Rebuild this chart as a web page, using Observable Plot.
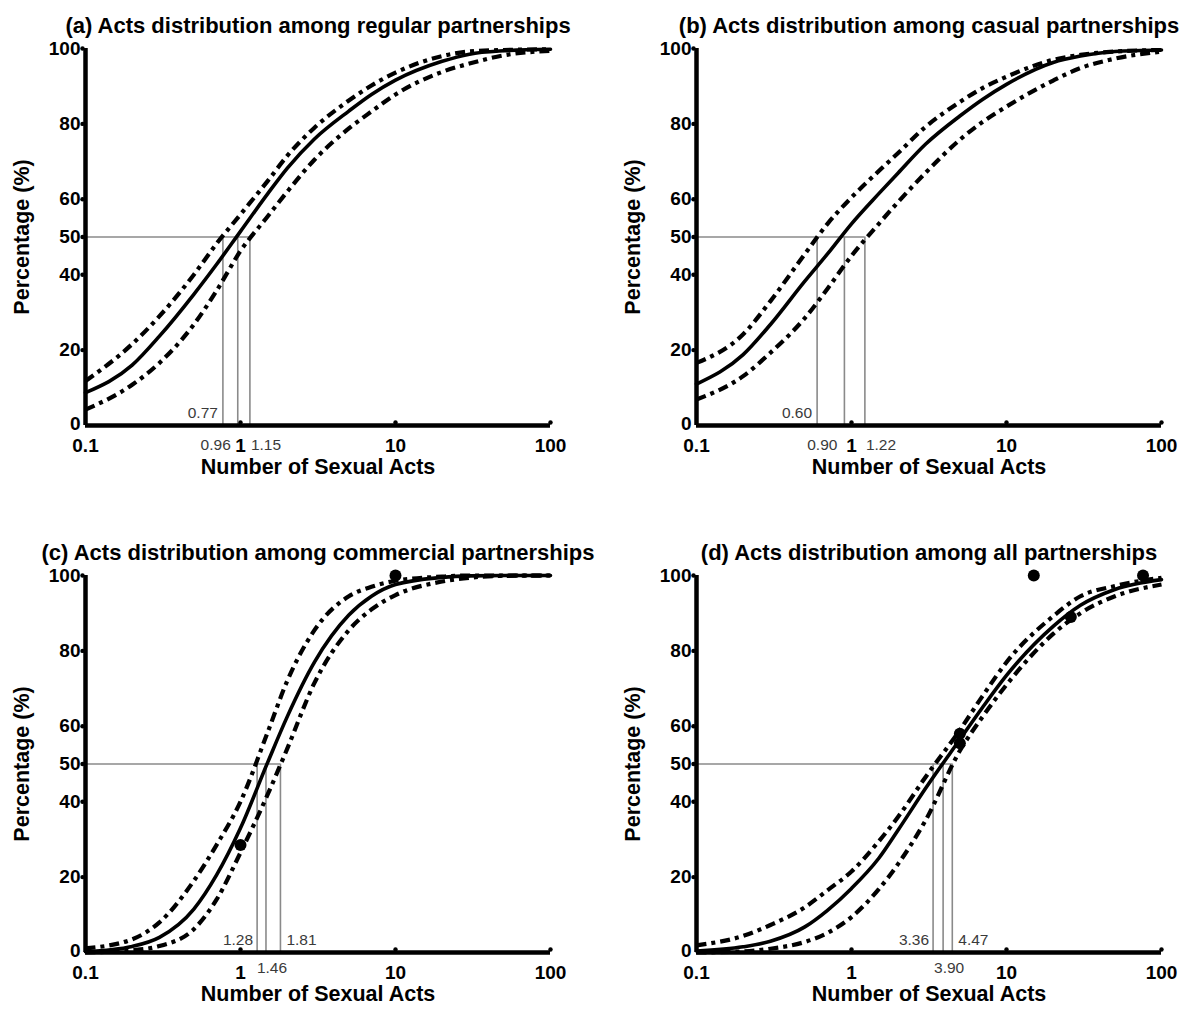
<!DOCTYPE html>
<html>
<head>
<meta charset="utf-8">
<script src="https://cdn.jsdelivr.net/npm/d3@7"></script>
<script src="https://cdn.jsdelivr.net/npm/@observablehq/plot@0.6"></script>
<style>
  html, body { margin: 0; padding: 0; background: #ffffff; overflow: hidden; }
  #wrap { position: relative; width: 1200px; height: 1020px; background: #ffffff; overflow: hidden; }
  .panel { position: absolute; width: 600px; height: 490px; }
  .panel svg { max-width: none !important; }
</style>
</head>
<body>
<div id="wrap"></div>
<script>
// ---- Data ----
const xGrid = [0.1, 0.2, 0.3, 0.5, 0.7, 1, 1.5, 2, 3, 5, 7, 10, 20, 30, 50, 100];

const titles = [
  "(a) Acts distribution among regular partnerships",
  "(b) Acts distribution among casual partnerships",
  "(c) Acts distribution among commercial partnerships",
  "(d) Acts distribution among all partnerships"
];

// Panel (a) regular
const aMid = [8.7, 16, 23.7, 34.8, 42.7, 51.5, 61.5, 68.2, 76, 83.4, 87.8, 91.6, 96.6, 98.5, 99.4, 99.8];
const aUp  = [11.8, 21.6, 29, 40, 48.2, 56, 64.9, 71.5, 79, 86.2, 90.2, 93.6, 98, 99.2, 99.6, 99.8];
const aLo  = [4.2, 10.8, 16.6, 26.8, 35.7, 46.3, 55.5, 62, 70.5, 78.8, 83.3, 87.8, 93.8, 96, 98.2, 99.4];
const aMedians = [0.77, 0.96, 1.15];
const aPoints = [];

// Panel (b) casual
const bMid = [11, 18.8, 26.8, 38.3, 45.5, 53.5, 61.5, 67, 74.6, 82.1, 86.5, 90.5, 96.3, 98, 99.2, 99.6];
const bUp  = [16.6, 24.2, 33, 45.5, 53.5, 60.5, 67.5, 72.3, 79.2, 85.8, 89.5, 92.5, 97, 98.3, 99.2, 99.6];
const bLo  = [6.9, 13.1, 19.3, 28.5, 36.3, 45, 53.5, 59.3, 67, 75.8, 80.5, 84.6, 91.5, 94.8, 97.3, 99.2];
const bMedians = [0.60, 0.90, 1.22];
const bPoints = [];

// Panel (c) commercial
const cMid = [0.2, 1.6, 4, 11.5, 20.5, 33, 50.5, 62.5, 77, 89.5, 94.5, 97.6, 99.5, 99.9, 100, 100];
const cUp  = [1.1, 3.5, 8, 19, 28.5, 40, 58.5, 72, 85.5, 94.5, 97, 98.6, 99.7, 100, 100, 100];
const cLo  = [0, 0.6, 1.7, 6.2, 14, 26.5, 42, 54, 71.5, 85.5, 91, 94.8, 98.4, 99.4, 99.9, 100];
const cMedians = [1.28, 1.46, 1.81];
const cPoints = [[1, 28.5], [10, 100]];

// Panel (d) all
const dMid = [0.4, 1.5, 3, 6.8, 11.2, 17, 25, 32.5, 43.5, 56.5, 65, 73.5, 86.5, 92.1, 96.3, 98.9];
const dUp  = [1.9, 4.4, 7.3, 12, 16.5, 21.5, 29.5, 36, 46.5, 59, 68, 77, 89.2, 94.5, 97.2, 99.4];
const dLo  = [0, 0.3, 1, 2.8, 5.2, 9.4, 16.8, 23.5, 35, 53.5, 62.5, 71, 84.5, 90, 94.5, 97.6];
const dMedians = [3.36, 3.90, 4.47];
const dPoints = [[15, 100], [76, 100], [26, 89], [5, 58], [5, 55.5]];

const xTicks = [0.1, 1, 10, 100];
const yTicks = [0, 20, 40, 50, 60, 80, 100];
const xLabel = "Number of Sexual Acts";
const yLabel = "Percentage (%)";

// ---- Styling / layout (not data) ----
const FONT = "'Liberation Sans', Arial, Helvetica, sans-serif";
const placeAB = [
  {anchor: "end", dx: -5, dy: -12},   // above axis, left of line
  {anchor: "end", dx: -7, dy: 20},    // below axis, left
  {anchor: "start", dx: 1, dy: 20}    // below axis, right
];
const placeCD = [
  {anchor: "end", dx: -4, dy: -12},
  {anchor: "middle", dx: 6, dy: 16},
  {anchor: "start", dx: 6, dy: -12}
];

const panels = [
  {title: titles[0], mid: aMid, up: aUp, lo: aLo, med: aMedians, pts: aPoints, place: placeAB, left: 0, top: 0},
  {title: titles[1], mid: bMid, up: bUp, lo: bLo, med: bMedians, pts: bPoints, place: placeAB, left: 611, top: 0},
  {title: titles[2], mid: cMid, up: cUp, lo: cLo, med: cMedians, pts: cPoints, place: placeCD, left: 0, top: 527},
  {title: titles[3], mid: dMid, up: dUp, lo: dLo, med: dMedians, pts: dPoints, place: placeCD, left: 611, top: 527}
];

function series(arr) { return xGrid.map((x, i) => ({x, y: arr[i]})); }

function makePanel(p) {
  const dash = "10,5,4,5";
  const gray = "#8a8a8a";
  const dashStyle = {x: "x", y: "y", curve: "monotone-x", stroke: "#000", strokeWidth: 4.2,
    strokeDasharray: dash, strokeLinecap: "butt"};
  const labelMarks = p.med.map((m, i) => Plot.text([m], {
    x: d => d, y: 0, text: d => d.toFixed(2),
    textAnchor: p.place[i].anchor, dx: p.place[i].dx, dy: p.place[i].dy,
    lineAnchor: "middle", fontSize: 15.5, fill: "#3a3a3a", fontFamily: FONT
  }));
  const tickFont = {lineAnchor: "middle", fontSize: 19, fontWeight: "bold", fill: "#000"};
  return Plot.plot({
    width: 600, height: 490,
    marginLeft: 85, marginRight: 50, marginTop: 48, marginBottom: 65,
    x: {type: "log", domain: [0.1, 100], axis: null},
    y: {domain: [0, 100], axis: null},
    style: {fontFamily: FONT, background: "#ffffff", color: "#000", overflow: "visible", maxWidth: "none"},
    marks: [
      // reference lines at 50 %
      Plot.ruleY([50], {x1: 0.1, x2: d3.max(p.med), stroke: gray, strokeWidth: 1.6}),
      Plot.ruleX(p.med, {y1: 0, y2: 50, stroke: gray, strokeWidth: 1.6}),
      // curves
      Plot.line(series(p.up), dashStyle),
      Plot.line(series(p.lo), dashStyle),
      Plot.line(series(p.mid), {x: "x", y: "y", curve: "monotone-x", stroke: "#000", strokeWidth: 3.6}),
      // observed points
      Plot.dot(p.pts, {x: d => d[0], y: d => d[1], r: 6, fill: "#000", stroke: "none"}),
      // axis lines
      Plot.ruleX([0.1], {stroke: "#000", strokeWidth: 4.5}),
      Plot.ruleY([0], {stroke: "#000", strokeWidth: 4.5}),
      // small tick nubs
      Plot.dot(xTicks.slice(1), {x: d => d, y: 0, r: 2.2, dy: -3, fill: "#000"}),
      Plot.dot(yTicks.slice(1), {x: 0.1, y: d => d, r: 2.2, dx: -3, fill: "#000"}),
      // tick labels
      Plot.text(yTicks.slice(1), {x: 0.1, y: d => d, text: d => String(d), textAnchor: "end", dx: -5, ...tickFont}),
      Plot.text(yTicks.slice(0, 1), {x: 0.1, y: d => d, text: d => String(d), textAnchor: "end", dx: -5, dy: -2, ...tickFont}),
      Plot.text(xTicks, {x: d => d, y: 0, text: d => String(d), dy: 20, ...tickFont}),
      // median labels
      ...labelMarks,
      // axis titles and panel title
      Plot.text([xLabel], {frameAnchor: "bottom", dy: 42, lineAnchor: "middle", textAnchor: "middle",
        fontSize: 21.5, fontWeight: "bold", fill: "#000"}),
      Plot.text([yLabel], {frameAnchor: "left", dx: -63, rotate: -90, lineAnchor: "middle", textAnchor: "middle",
        fontSize: 21.5, fontWeight: "bold", fill: "#000"}),
      Plot.text([p.title], {frameAnchor: "top", dy: -23, lineAnchor: "middle", textAnchor: "middle",
        fontSize: 22, fontWeight: "bold", fill: "#000"})
    ]
  });
}

const wrap = document.getElementById("wrap");
for (const p of panels) {
  const div = document.createElement("div");
  div.className = "panel";
  div.style.left = p.left + "px";
  div.style.top = p.top + "px";
  div.appendChild(makePanel(p));
  wrap.appendChild(div);
}
</script>
</body>
</html>
